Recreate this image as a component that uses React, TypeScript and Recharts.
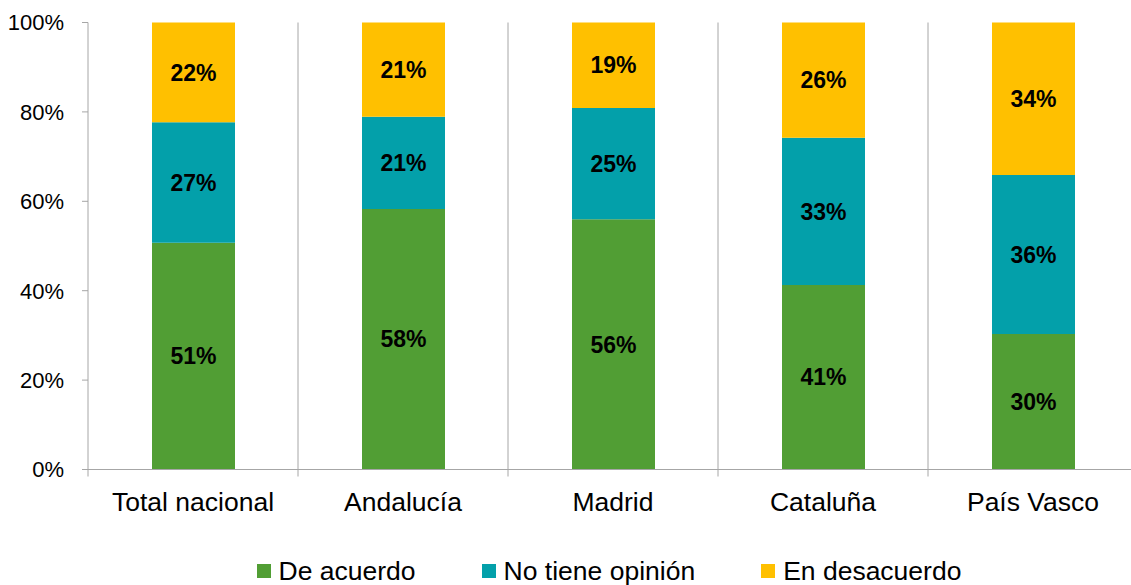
import { BarChart, Bar, XAxis, YAxis, CartesianGrid, Legend, LabelList } from 'recharts';

const regions = ['Total nacional', 'Andalucía', 'Madrid', 'Cataluña', 'País Vasco'];
const deAcuerdo = [50.7, 58.3, 56.0, 41.3, 30.3];
const sinOpinion = [27.0, 20.6, 24.9, 32.9, 35.6];
const enDesacuerdo = [22.3, 21.1, 19.1, 25.8, 34.1];
const yTicks = [0, 20, 40, 60, 80, 100];

const series = [
  { key: 'deAcuerdo', name: 'De acuerdo', color: '#519e34' },
  { key: 'sinOpinion', name: 'No tiene opinión', color: '#03a0aa' },
  { key: 'enDesacuerdo', name: 'En desacuerdo', color: '#ffc000' },
];

const data = regions.map((region, i) => ({
  region,
  deAcuerdo: deAcuerdo[i],
  sinOpinion: sinOpinion[i],
  enDesacuerdo: enDesacuerdo[i],
}));

const FONT = '"Liberation Sans", Arial, sans-serif';
const GRID = '#a6a6a6';
const BAND = 210;

function RegionTick({ x, y, payload }: any) {
  return (
    <g>
      <line x1={x - BAND / 2} y1={y - 7} x2={x - BAND / 2} y2={y} stroke={GRID} strokeWidth={1} />
      <text x={x} y={y + 34} textAnchor="middle" fontSize={26.5} fill="#000" fontFamily={FONT}>
        {payload.value}
      </text>
    </g>
  );
}

function LegendRow() {
  return (
    <div
      style={{
        display: 'flex',
        justifyContent: 'center',
        gap: 66,
        fontFamily: FONT,
        fontSize: 26.5,
        lineHeight: '28px',
        paddingTop: 12,
        paddingLeft: 80,
      }}
    >
      {series.map((s) => (
        <div key={s.key} style={{ display: 'flex', alignItems: 'center' }}>
          <span style={{ width: 14, height: 14, background: s.color, marginRight: 8, display: 'inline-block' }} />
          <span>{s.name}</span>
        </div>
      ))}
    </div>
  );
}

export default function App() {
  return (
    <div style={{ position: 'fixed', top: 0, left: 0, width: 1131, height: 585, overflow: 'hidden', background: '#fff' }}>
      <BarChart
        width={1146}
        height={585}
        data={data}
        margin={{ top: 22.5, right: 8, bottom: 0, left: 0 }}
        style={{ fontFamily: FONT }}
      >
        <CartesianGrid
          horizontal={false}
          stroke={GRID}
          verticalCoordinatesGenerator={({ offset }: any) =>
            regions.slice(1).map((_, i) => offset.left + BAND * (i + 1))
          }
        />
        <XAxis
          dataKey="region"
          stroke={GRID}
          tickLine={false}
          tickSize={7}
          tickMargin={0}
          height={75.5}
          tick={<RegionTick />}
          interval={0}
        />
        <YAxis
          domain={[0, 100]}
          ticks={yTicks}
          tickFormatter={(v: number) => `${v}%`}
          stroke={GRID}
          width={88}
          tickSize={6}
          tickMargin={18}
          tick={{ fill: '#000', fontSize: 22, fontFamily: FONT }}
        />
        <Legend verticalAlign="bottom" height={40} content={() => <LegendRow />} />
        {series.map((s) => (
          <Bar key={s.key} dataKey={s.key} name={s.name} stackId="a" fill={s.color} barSize={83} isAnimationActive={false}>
            <LabelList
              dataKey={s.key}
              position="center"
              formatter={(v: number) => `${Math.round(v)}%`}
              fill="#000"
              style={{ fontSize: 23, fontWeight: 'bold', fontFamily: FONT }}
            />
          </Bar>
        ))}
      </BarChart>
    </div>
  );
}
